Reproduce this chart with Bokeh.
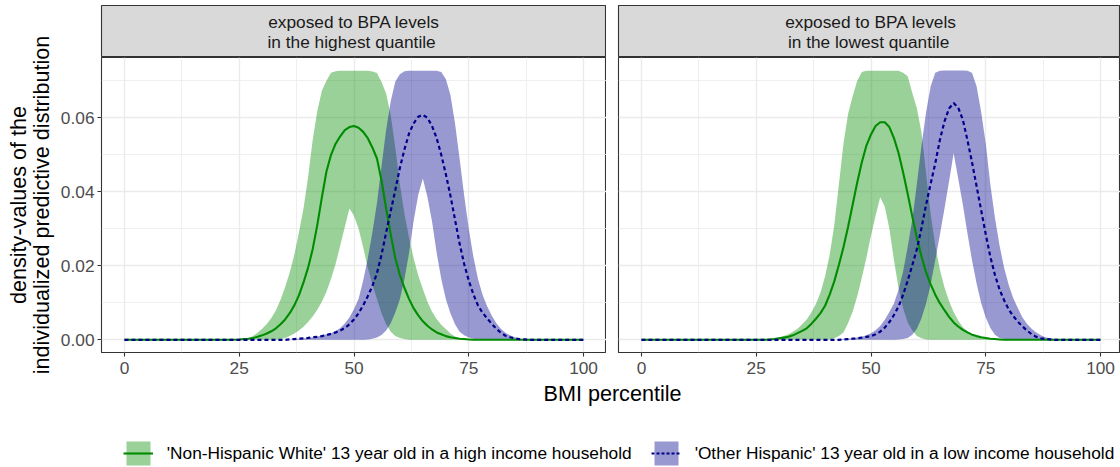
import math
from bokeh.plotting import figure
from bokeh.layouts import column, row
from bokeh.models import (Range1d, FixedTicker, NumeralTickFormatter, LinearAxis, Grid,
                          Label, Legend, LegendItem)
from bokeh.core.properties import value
from bokeh.embed import file_html
from bokeh.resources import INLINE

# ---------------- data ----------------
panel_titles_line1 = ["exposed to BPA levels", "exposed to BPA levels"]
panel_titles_line2 = [" in the highest quantile", " in the lowest quantile"]
group_labels = ["'Non-Hispanic White' 13 year old in a high income household",
                "'Other Hispanic' 13 year old in a low income household"]
y_title_lines = ["density-values of the", "individualized predictive distribution"]
x_title = "BMI percentile"
x_tick_values = [0, 25, 50, 75, 100]
x_minor_values = [12.5, 37.5, 62.5, 87.5]
y_tick_values = [0, 0.02, 0.04, 0.06]
y_minor_values = [0.01, 0.03, 0.05, 0.07]

# panel 1: exposed to BPA levels in the highest quantile
bmi_hi = [0, 21, 23,
          25, 26, 27, 28, 29, 30, 31, 32, 33, 34,
          35, 36, 37, 38, 39, 40, 41, 42, 43, 44,
          45, 46, 47, 48, 49, 50, 51, 52, 53, 54,
          55, 56, 57, 58, 59, 60, 61, 62, 63, 64,
          65, 66, 67, 68, 69, 70, 71, 72, 73, 74,
          75, 76, 77, 78, 79, 80, 81, 82, 83, 84,
          85, 86, 87, 88, 89,
          91, 100]
nhw_hi_upper = [0, 0, 0,
                0.0001, 0.0002, 0.0004, 0.001, 0.0019, 0.003, 0.0043, 0.0059, 0.008, 0.0108,
                0.0143, 0.0182, 0.023, 0.029, 0.0355, 0.044, 0.054, 0.0618, 0.0673, 0.070,
                0.0722, 0.0726, 0.0727, 0.0727, 0.0727, 0.0727, 0.0727, 0.0727, 0.0727, 0.0725,
                0.0721, 0.0697, 0.0666, 0.0607, 0.052, 0.042, 0.034, 0.0275, 0.022, 0.0174,
                0.0137, 0.0103, 0.0076, 0.0056, 0.0041, 0.0029, 0.0017, 0.0009, 0.0004, 0.0002,
                0.0001, 0, 0, 0, 0, 0, 0, 0, 0, 0,
                0, 0, 0, 0, 0,
                0, 0]
nhw_hi_mean = [0, 0, 0,
               0.0001, 0.0002, 0.0003, 0.0005, 0.0008, 0.0012, 0.0017, 0.0023, 0.0031, 0.0042,
               0.0055, 0.0072, 0.0093, 0.012, 0.0155, 0.0195, 0.0245, 0.031, 0.0385, 0.0455,
               0.050, 0.053, 0.055, 0.0567, 0.0575, 0.0578, 0.0573, 0.0562, 0.0545, 0.052,
               0.049, 0.043, 0.0355, 0.0285, 0.022, 0.0175, 0.014, 0.011, 0.0085, 0.0066,
               0.005, 0.0038, 0.0028, 0.002, 0.0015, 0.001, 0.0007, 0.0005, 0.0003, 0.0002,
               0.0001, 0, 0, 0, 0, 0, 0, 0, 0, 0,
               0, 0, 0, 0, 0,
               0, 0]
nhw_hi_lower = [0, 0, 0,
                0, 0, 0, 0, 0, 0, 0, 0, 0, 0.0002,
                0.0005, 0.001, 0.0017, 0.0025, 0.0035, 0.0048, 0.0063, 0.0081, 0.0103, 0.013,
                0.0165, 0.0205, 0.0255, 0.0305, 0.0355, 0.0335, 0.030, 0.025, 0.0195, 0.015,
                0.011, 0.0072, 0.0042, 0.0022, 0.001, 0.0005, 0.0002, 0, 0, 0,
                0, 0, 0, 0, 0, 0, 0, 0, 0, 0,
                0, 0, 0, 0, 0, 0, 0, 0, 0, 0,
                0, 0, 0, 0, 0,
                0, 0]
oh_hi_upper = [0, 0, 0,
               0, 0, 0, 0, 0, 0, 0, 0, 0, 0,
               0, 0.0001, 0.0002, 0.0003, 0.0004, 0.0005, 0.0007, 0.0009, 0.0012, 0.0015,
               0.0018, 0.0024, 0.0032, 0.0044, 0.006, 0.0083, 0.0111, 0.016, 0.022, 0.029,
               0.037, 0.047, 0.0568, 0.0645, 0.0698, 0.0718, 0.0726, 0.0727, 0.0727, 0.0727,
               0.0727, 0.0727, 0.0727, 0.0727, 0.0724, 0.0705, 0.0662, 0.0585, 0.049, 0.039,
               0.030, 0.0225, 0.0165, 0.0122, 0.0091, 0.0066, 0.0045, 0.003, 0.0019, 0.0012,
               0.0007, 0.0003, 0.0001, 0, 0,
               0, 0]
oh_hi_mean = [0, 0, 0,
              0, 0, 0, 0, 0, 0, 0, 0, 0, 0,
              0, 0.0001, 0.0002, 0.0003, 0.0004, 0.0005, 0.0007, 0.0008, 0.001, 0.0013,
              0.0016, 0.002, 0.0025, 0.0032, 0.0042, 0.0055, 0.0072, 0.0093, 0.0118, 0.0145,
              0.018, 0.023, 0.029, 0.0348, 0.0405, 0.0465, 0.0515, 0.0558, 0.0585, 0.0603,
              0.0608, 0.060, 0.0578, 0.0545, 0.050, 0.0448, 0.039, 0.0325, 0.026, 0.0205,
              0.016, 0.0123, 0.0093, 0.0073, 0.0058, 0.0043, 0.003, 0.0019, 0.0011, 0.0007,
              0.0004, 0.0002, 0.0001, 0, 0,
              0, 0]
oh_hi_lower = [0, 0, 0,
               0, 0, 0, 0, 0, 0, 0, 0, 0, 0,
               0, 0, 0, 0, 0, 0, 0, 0, 0, 0,
               0, 0, 0, 0, 0, 0, 0, 0, 0.0001, 0.0003,
               0.0006, 0.0013, 0.0025, 0.0045, 0.0074, 0.011, 0.0165, 0.0235, 0.0322, 0.0392,
               0.0436, 0.0385, 0.032, 0.0235, 0.0165, 0.011, 0.0072, 0.0042, 0.0022, 0.0012,
               0.0006, 0.0003, 0.0001, 0, 0, 0, 0, 0, 0, 0,
               0, 0, 0, 0, 0,
               0, 0]

# panel 2: exposed to BPA levels in the lowest quantile
bmi_lo = [0, 22, 24,
          26, 27, 28, 29, 30, 31, 32, 33, 34, 35,
          36, 37, 38, 39, 40, 41, 42, 43, 44, 45,
          46, 47, 48, 49, 50, 51, 52, 53, 54, 55,
          56, 57, 58, 59, 60, 61, 62, 63, 64, 65,
          66, 67, 68, 69, 70, 71, 72, 73, 74, 75,
          76, 77, 78, 79, 80, 81, 82, 83, 84, 85,
          86, 87, 88, 89, 90, 91, 92,
          100]
nhw_lo_upper = [0, 0, 0,
                0, 0.0001, 0.0002, 0.0004, 0.0006, 0.001, 0.0015, 0.0022, 0.003, 0.0042,
                0.0055, 0.0074, 0.0097, 0.0128, 0.0172, 0.023, 0.031, 0.042, 0.053, 0.061,
                0.0658, 0.070, 0.0724, 0.0727, 0.0727, 0.0727, 0.0727, 0.0727, 0.0727, 0.0727,
                0.0727, 0.0722, 0.0712, 0.0667, 0.0625, 0.056, 0.045, 0.034, 0.0255, 0.019,
                0.0142, 0.0105, 0.0075, 0.0052, 0.0034, 0.0024, 0.0016, 0.0012, 0.0008, 0.0005,
                0.0003, 0.0002, 0.0001, 0, 0, 0, 0, 0, 0, 0,
                0, 0, 0, 0, 0, 0, 0,
                0]
nhw_lo_mean = [0, 0, 0,
               0, 0, 0.0001, 0.0002, 0.0004, 0.0006, 0.0008, 0.0012, 0.0018, 0.0024,
               0.0031, 0.0043, 0.0057, 0.0072, 0.0092, 0.0122, 0.0158, 0.0202, 0.025, 0.0305,
               0.0365, 0.0425, 0.048, 0.0525, 0.0555, 0.0578, 0.0588, 0.0588, 0.0575, 0.0545,
               0.0505, 0.0452, 0.0394, 0.0333, 0.0275, 0.0225, 0.0182, 0.015, 0.0122, 0.0099,
               0.008, 0.0062, 0.0047, 0.0036, 0.0027, 0.002, 0.0014, 0.001, 0.0007, 0.0005,
               0.0003, 0.0002, 0.0001, 0, 0, 0, 0, 0, 0, 0,
               0, 0, 0, 0, 0, 0, 0,
               0]
nhw_lo_lower = [0, 0, 0,
                0, 0, 0, 0, 0, 0, 0, 0, 0, 0,
                0, 0, 0, 0, 0, 0.0001, 0.0004, 0.001, 0.002, 0.0045,
                0.0076, 0.0118, 0.0168, 0.0222, 0.0282, 0.0335, 0.0385, 0.036, 0.030, 0.0215,
                0.014, 0.0085, 0.0047, 0.0025, 0.001, 0.0004, 0.0001, 0, 0, 0,
                0, 0, 0, 0, 0, 0, 0, 0, 0, 0,
                0, 0, 0, 0, 0, 0, 0, 0, 0, 0,
                0, 0, 0, 0, 0, 0, 0,
                0]
oh_lo_upper = [0, 0, 0,
               0, 0, 0, 0, 0, 0, 0, 0, 0, 0,
               0, 0, 0, 0, 0, 0, 0, 0.0001, 0.0002, 0.0003,
               0.0004, 0.0006, 0.0008, 0.0012, 0.0018, 0.0026, 0.0037, 0.0054, 0.0075, 0.0098,
               0.0135, 0.0185, 0.0252, 0.0325, 0.0422, 0.0525, 0.0616, 0.0685, 0.0722, 0.0727,
               0.0728, 0.0728, 0.0728, 0.0728, 0.0728, 0.0727, 0.0722, 0.0685, 0.0616, 0.053,
               0.042, 0.033, 0.0255, 0.0195, 0.0148, 0.0112, 0.0085, 0.006, 0.0043, 0.003,
               0.002, 0.0012, 0.0007, 0.0004, 0.0002, 0.0001, 0,
               0]
oh_lo_mean = [0, 0, 0,
              0, 0, 0, 0, 0, 0, 0, 0, 0, 0,
              0, 0, 0, 0, 0, 0, 0, 0, 0.0001, 0.0002,
              0.0003, 0.0004, 0.0006, 0.0008, 0.001, 0.0015, 0.0022, 0.0033, 0.0048, 0.0067,
              0.009, 0.0122, 0.016, 0.0202, 0.0245, 0.0302, 0.0365, 0.0422, 0.0477, 0.054,
              0.059, 0.0625, 0.064, 0.0627, 0.0595, 0.054, 0.048, 0.0415, 0.035, 0.0285,
              0.0224, 0.0175, 0.0136, 0.0107, 0.0082, 0.0064, 0.0049, 0.0036, 0.0025, 0.0015,
              0.0008, 0.0004, 0.0002, 0.0001, 0, 0, 0,
              0]
oh_lo_lower = [0, 0, 0,
               0, 0, 0, 0, 0, 0, 0, 0, 0, 0,
               0, 0, 0, 0, 0, 0, 0, 0, 0, 0,
               0, 0, 0, 0, 0, 0, 0, 0, 0, 0,
               0.0001, 0.0002, 0.0005, 0.0014, 0.003, 0.0058, 0.0098, 0.015, 0.0215, 0.0283,
               0.0354, 0.0428, 0.0504, 0.0435, 0.0366, 0.0288, 0.0215, 0.0152, 0.0099, 0.006,
               0.0032, 0.0014, 0.0005, 0.0002, 0.0001, 0, 0, 0, 0, 0,
               0, 0, 0, 0, 0, 0, 0,
               0]

for _s in (nhw_hi_upper, nhw_hi_mean, nhw_hi_lower, oh_hi_upper, oh_hi_mean, oh_hi_lower):
    assert len(_s) == len(bmi_hi), len(_s)
for _s in (nhw_lo_upper, nhw_lo_mean, nhw_lo_lower, oh_lo_upper, oh_lo_mean, oh_lo_lower):
    assert len(_s) == len(bmi_lo), len(_s)

# ---------------- style / layout ----------------
FONT = "Liberation Sans"
GREEN = "#008B00"
NAVY = "#00008B"
BAND_ALPHA = 0.4
GRID_COL = "#EBEBEB"
DARK = "#333333"
SMALL = "17.3px"
BIG = "21.6px"

TOTAL_W = 1120
TITLE_W = 56          # column holding the two-line y title
AXIS_W = 45           # room for y tick labels
FRAME1_W = 505        # panel 1 frame (x from -5 to 105)
GAP = 12              # space between panels
PX_PER_UNIT = FRAME1_W / 110.0
W1 = AXIS_W + FRAME1_W
W2 = TOTAL_W - TITLE_W - W1
X_END2 = -5 + (W2 - GAP) / PX_PER_UNIT

STRIP_TOP = 5
STRIP_H = 52
FRAME_H = 295
AXIS_H = 30
BOTTOM_H = 467 - (STRIP_TOP + STRIP_H) - (FRAME_H + AXIS_H)
Y_RANGE = (-0.00343, 0.0763)


def style_axis(ax, standoff):
    ax.axis_line_color = None
    ax.major_tick_line_color = DARK
    ax.major_tick_line_width = 1.1
    ax.major_tick_out = 4
    ax.major_tick_in = 0
    ax.minor_tick_line_color = None
    ax.major_label_standoff = standoff
    ax.major_label_text_font = FONT
    ax.major_label_text_font_size = SMALL
    ax.major_label_text_color = "#4D4D4D"


def make_panel(width, left, x_range, show_y):
    p = figure(width=width, height=FRAME_H + AXIS_H, x_range=x_range,
               y_range=Range1d(*Y_RANGE), x_axis_location=None, y_axis_location=None,
               min_border_left=left, min_border_right=0, min_border_top=0,
               min_border_bottom=AXIS_H, toolbar_location=None, output_backend="svg",
               background_fill_color="white", border_fill_color="white",
               outline_line_color=DARK, outline_line_width=1.1)
    p.grid.visible = False
    xt = FixedTicker(ticks=x_tick_values, minor_ticks=x_minor_values)
    yt = FixedTicker(ticks=y_tick_values, minor_ticks=y_minor_values)
    for dim, t in ((0, xt), (1, yt)):
        p.add_layout(Grid(dimension=dim, ticker=t, grid_line_color=GRID_COL,
                          grid_line_width=1.4, minor_grid_line_color=GRID_COL,
                          minor_grid_line_width=0.8))
    xa = LinearAxis(ticker=xt)
    style_axis(xa, 5)
    p.add_layout(xa, "below")
    if show_y:
        ya = LinearAxis(ticker=yt, formatter=NumeralTickFormatter(format="0.00"))
        style_axis(ya, 3)
        p.add_layout(ya, "left")
    return p


def make_strip(width, left, x_range, l1, l2):
    s = figure(width=width, height=STRIP_TOP + STRIP_H, x_range=x_range,
               y_range=Range1d(0, STRIP_H), x_axis_location=None, y_axis_location=None,
               min_border_left=left, min_border_right=0, min_border_top=STRIP_TOP,
               min_border_bottom=0, toolbar_location=None, output_backend="svg",
               background_fill_color="#D9D9D9", border_fill_color="white",
               outline_line_color=DARK, outline_line_width=1.1)
    s.grid.visible = False
    for txt, yy in ((l1, 35.3), (l2, 15.3)):
        s.add_layout(Label(x=50, y=yy, text=txt, text_align="center",
                           text_baseline="middle", text_font=FONT,
                           text_font_size=SMALL, text_color="#1A1A1A"))
    return s


def draw(p, xs, gl, gm, gu, ol, om, ou):
    p.varea(x=xs, y1=gl, y2=gu, fill_color=GREEN, fill_alpha=BAND_ALPHA)
    p.varea(x=xs, y1=ol, y2=ou, fill_color=NAVY, fill_alpha=BAND_ALPHA)
    p.line(x=xs, y=gm, line_color=GREEN, line_width=2.1)
    p.line(x=xs, y=om, line_color=NAVY, line_width=2.2, line_dash="4 3")


xr1 = Range1d(-5, 105)
xr2 = Range1d(-5, X_END2)

p1 = make_panel(W1, AXIS_W, xr1, True)
p2 = make_panel(W2, GAP, xr2, False)
s1 = make_strip(W1, AXIS_W, xr1, panel_titles_line1[0], panel_titles_line2[0])
s2 = make_strip(W2, GAP, xr2, panel_titles_line1[1], panel_titles_line2[1])

draw(p1, bmi_hi, nhw_hi_lower, nhw_hi_mean, nhw_hi_upper, oh_hi_lower, oh_hi_mean, oh_hi_upper)
draw(p2, bmi_lo, nhw_lo_lower, nhw_lo_mean, nhw_lo_upper, oh_lo_lower, oh_lo_mean, oh_lo_upper)

# y-axis title column (two rotated lines, centred on the panel frame)
COL_H = STRIP_TOP + STRIP_H + FRAME_H + AXIS_H
yt_fig = figure(width=TITLE_W, height=COL_H, x_range=Range1d(0, TITLE_W),
                y_range=Range1d(0, COL_H), x_axis_location=None, y_axis_location=None,
                min_border=0, toolbar_location=None, output_backend="svg",
                outline_line_color=None, background_fill_color="white",
                border_fill_color="white")
yt_fig.grid.visible = False
frame_mid_from_bottom = AXIS_H + FRAME_H / 2.0
for txt, xx in ((y_title_lines[0], 17.8), (y_title_lines[1], 41.0)):
    yt_fig.add_layout(Label(x=xx, y=frame_mid_from_bottom, text=txt, angle=math.pi / 2,
                            text_align="center", text_baseline="middle", text_font=FONT,
                            text_font_size=BIG, text_color="black"))

# bottom strip: x title + legend.  The legend proxies draw the real series, but far
# outside this strip's visible x-range, so only their legend keys are seen.
lf = figure(width=TOTAL_W, height=BOTTOM_H, x_range=Range1d(1000, 1000 + TOTAL_W),
            y_range=Range1d(0, BOTTOM_H), x_axis_location=None, y_axis_location=None,
            min_border=0, toolbar_location=None, output_backend="svg",
            outline_line_color=None, background_fill_color="white",
            border_fill_color="white")
lf.grid.visible = False
x_title_center = TITLE_W + AXIS_W + (FRAME1_W + GAP + FRAME1_W) / 2.0
lf.add_layout(Label(x=x_title_center, y=BOTTOM_H - 11, x_units="screen", y_units="screen",
                    text=x_title, text_align="center", text_baseline="middle",
                    text_font=FONT, text_font_size=BIG, text_color="black"))
ga = lf.varea(x=bmi_hi, y1=nhw_hi_lower, y2=nhw_hi_upper, fill_color=GREEN,
              fill_alpha=BAND_ALPHA)
gl_ = lf.line(x=bmi_hi, y=nhw_hi_mean, line_color=GREEN, line_width=2.1)
pa = lf.varea(x=bmi_hi, y1=oh_hi_lower, y2=oh_hi_upper, fill_color=NAVY,
              fill_alpha=BAND_ALPHA)
pl_ = lf.line(x=bmi_hi, y=oh_hi_mean, line_color=NAVY, line_width=2.2, line_dash="3 2")
legend = Legend(items=[LegendItem(label=value(group_labels[0]), renderers=[ga, gl_]),
                       LegendItem(label=value(group_labels[1]), renderers=[pa, pl_])],
                orientation="horizontal", location=(122.8, -1), glyph_width=30,
                glyph_height=30, label_height=30, label_standoff=14, spacing=19,
                padding=0, margin=0, border_line_color=None, background_fill_alpha=0,
                label_text_font=FONT, label_text_font_size=SMALL, label_text_color="black")
lf.add_layout(legend)

layout = column(row(yt_fig, column(s1, p1), column(s2, p2)), lf)
open("out.html", "w").write(file_html(layout, INLINE))
